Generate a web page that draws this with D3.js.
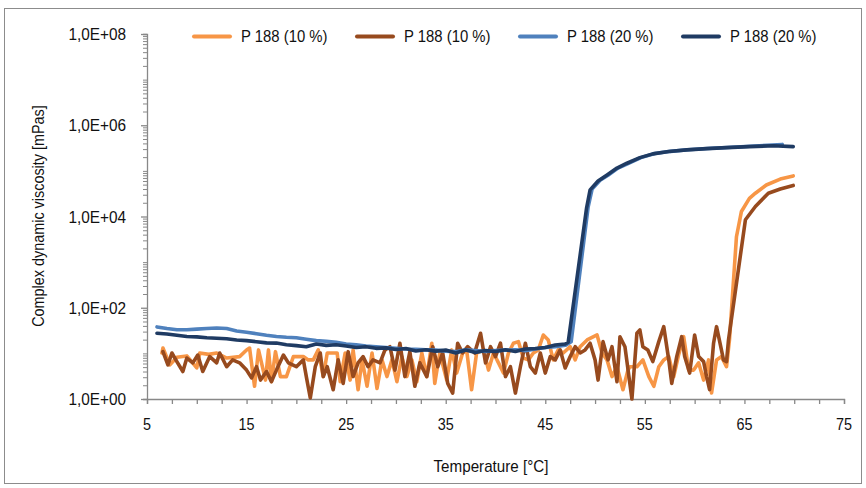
<!DOCTYPE html>
<html>
<head>
<meta charset="utf-8">
<script src="https://cdn.jsdelivr.net/npm/d3@7"></script>
<style>
  html, body { margin: 0; padding: 0; background: #fff; }
  text { font-family: "Liberation Sans", Arial, sans-serif; fill: #111; }
</style>
</head>
<body>
<div id="chart"></div>
<script>
// tick labels
const xTickLabels = [5, 15, 25, 35, 45, 55, 65, 75];
const yTickLabels = [1, 1e2, 1e4, 1e6, 1e8];

const seriesNames = ["P 188 (10 %)", "P 188 (10 %)", "P 188 (20 %)", "P 188 (20 %)"];
const seriesColors = ["#F79646", "#974A1E", "#4F81BD", "#1F3B63"];

// [temperature °C, complex dynamic viscosity mPas]
const p188_10a = [[6.5,10.2],[6.6,13.1],[7.3,5.6],[8.0,8.2],[9.0,8.8],[10.0,4.8],[10.3,10.2],[11.2,9.5],[12.0,10.2],[13.0,7.9],[14.3,8.5],[15.0,11.9],[15.3,13.1],[15.8,1.9],[16.2,11.9],[16.9,2.6],[17.2,11.9],[17.5,2.4],[17.9,10.9],[18.4,3.1],[19.0,3.1],[19.7,8.5],[20.7,8.5],[21.2,7.2],[21.7,7.2],[22.2,11.9],[22.7,3.1],[23.1,10.2],[24.1,10.2],[24.4,2.4],[24.9,10.2],[25.4,2.6],[25.7,11.9],[26.2,1.6],[26.6,7.2],[27.1,1.9],[27.6,10.2],[28.1,1.7],[28.6,7.2],[29.1,3.1],[29.6,7.2],[30.1,2.4],[30.6,8.5],[31.1,3.1],[31.6,7.2],[32.1,2.4],[32.6,10.2],[33.1,3.1],[33.6,16.7],[33.9,2.2],[34.4,10.2],[35.1,2.6],[35.6,11.9],[36.1,3.7],[36.7,10.2],[37.1,11.9],[37.6,1.6],[38.1,10.2],[38.8,11.9],[39.3,4.3],[39.8,10.2],[40.3,6.2],[40.8,3.7],[41.3,10.2],[41.8,16.7],[42.3,18.1],[42.8,7.9],[43.3,7.2],[43.8,10.2],[44.3,11.9],[44.8,25.3],[45.3,19.7],[45.8,7.2],[46.3,11.9],[46.8,10.2],[47.5,14.0],[48.0,7.2],[48.5,14.0],[49.2,19.7],[50.2,25.3],[50.7,10.2],[51.2,7.2],[51.7,3.1],[52.2,5.1],[52.8,1.6],[53.3,4.3],[53.5,5.1],[54.2,5.1],[54.8,7.2],[55.4,3.1],[55.9,1.9],[56.4,5.1],[56.9,7.2],[57.4,8.5],[57.9,3.1],[58.4,9.5],[58.9,23.2],[59.4,4.3],[59.9,4.3],[60.4,6.2],[60.9,2.6],[61.4,7.2],[61.7,1.35],[62.2,7.2],[62.7,8.5],[63.2,5.1],[63.5,20],[64.2,3600],[64.7,12900],[65.5,25000],[66.1,32400],[67.2,49000],[68.6,66000],[69.9,77600]];

const p188_10b = [[6.6,10.9],[7.1,5.6],[7.5,10.2],[8.0,6.6],[8.6,4.0],[9.0,7.9],[9.6,6.2],[10.1,9.2],[10.6,4.0],[11.3,8.5],[12.0,6.2],[12.3,10.2],[13.0,5.1],[13.6,7.2],[14.3,6.2],[15.0,4.3],[15.5,2.9],[16.0,5.1],[16.4,2.6],[17.0,4.0],[17.5,2.4],[18.0,4.3],[18.7,9.2],[19.2,6.2],[20.0,5.1],[20.7,7.2],[21.0,3.1],[21.4,1.05],[21.9,5.1],[22.4,10.2],[22.7,3.1],[23.1,5.1],[23.7,1.6],[24.2,7.2],[24.7,2.2],[25.2,10.9],[25.7,3.1],[26.2,6.2],[26.7,8.5],[27.2,5.1],[27.7,7.2],[28.4,6.2],[28.9,11.9],[29.4,14.0],[29.9,4.3],[30.4,16.7],[30.9,3.1],[31.4,10.9],[31.9,1.9],[32.4,6.2],[33.1,3.1],[33.7,14.0],[34.2,5.1],[34.7,10.2],[35.2,2.2],[35.7,1.35],[36.2,16.7],[36.7,10.2],[37.2,14.0],[37.9,10.2],[38.5,27.6],[39.0,6.2],[39.5,14.0],[40.0,8.5],[40.5,16.7],[41.0,3.1],[41.5,5.1],[42.0,1.35],[42.5,5.1],[43.0,16.7],[43.5,5.1],[44.0,3.7],[44.5,10.2],[45.0,3.7],[45.5,8.5],[46.0,7.2],[46.5,11.9],[47.0,4.8],[47.5,8.5],[48.0,14.0],[48.5,10.2],[49.0,11.9],[49.5,16.7],[50.0,7.2],[50.3,2.6],[50.8,18.1],[51.3,7.2],[51.7,14.0],[52.2,2.4],[52.5,23.2],[53.0,14.0],[53.2,6.6],[53.7,1.0],[54.2,27.6],[54.5,32.6],[54.8,14.0],[55.3,11.9],[55.8,6.6],[56.4,18.1],[56.9,38.5],[57.4,7.2],[57.7,2.2],[58.2,8.5],[58.7,23.2],[59.0,8.5],[59.5,3.7],[60.0,25.3],[60.4,8.5],[60.9,6.6],[61.2,3.1],[61.5,1.6],[61.9,16.7],[62.2,38.5],[62.9,7.2],[63.2,6.6],[63.4,19.7],[65.1,8500],[66.1,16600],[67.4,32400],[68.6,40000],[69.9,47900]];

const p188_20a = [[6,38],[7,35],[8,33],[9,33],[10,34],[11,35],[12,36],[13,35],[14,31],[15,29],[16,27],[17,25],[18,23.5],[19,22.5],[20,22],[21,20.4],[22,19],[23,18.5],[24,17.5],[25,16],[26,15.5],[27,14.5],[28,14],[29,13.5],[30,13],[31,12.5],[32,12.3],[33,12],[34,11.8],[35,11.2],[36,10.9],[37,12],[38,11.5],[39,11],[40,11.5],[41,11.8],[42,12],[43,11.5],[44,12.5],[45,13.5],[46,14],[47,15],[47.6,18],[49.3,16000],[49.7,40000],[50.5,62000],[51.3,80000],[52.3,115000],[53.3,145000],[54.6,195000],[56,240000],[57.6,268000],[59.3,290000],[61.3,310000],[63.3,325000],[66,350000],[68.8,380000]];

const p188_20b = [[6,27.6],[7,26.5],[8,25],[9,23.5],[10,23],[11,22],[12,21.5],[13,21],[14,19.7],[15,19],[16,18],[17,17],[18,16.8],[19,15.5],[20,14.8],[21,14],[22,16],[23,15],[24,15.5],[25,14.5],[26,13.5],[27,14],[28,12.9],[29,13.2],[30,12.2],[31,12.8],[32,11.3],[33,12],[34,11.2],[35,11.8],[36,10.2],[37,11.8],[38,10.4],[39,11.5],[40,11],[41,12],[42,11],[43,12.5],[44,12.8],[45,13.5],[46,15.2],[47,16],[47.3,17.5],[49.15,15500],[49.5,38400],[50.3,60000],[51.2,81500],[52.2,115000],[53.2,147000],[54.5,195000],[55.8,236000],[57.4,265000],[59.2,288000],[61.2,308000],[63.2,324000],[65.5,340000],[67.9,355000],[69.9,340000]];

const allSeries = [p188_10a, p188_10b, p188_20a, p188_20b];

const W = 866, H = 488;
const svg = d3.select("#chart").append("svg")
    .attr("width", W)
    .attr("height", H);

// outer frame
svg.append("rect")
    .attr("x", 4.5).attr("y", 8.5)
    .attr("width", 857).attr("height", 475)
    .attr("fill", "none")
    .attr("stroke", "#8c8c8c")
    .attr("stroke-width", 1);

const x = d3.scaleLinear().domain([5, 75]).range([147, 844]);
const y = d3.scaleLog().domain([1, 1e8]).range([399, 34]);

const axisColor = "#888";

// condensed-looking text: squeeze horizontally around the anchor point
function label(parent, tx, ty, str, opts) {
    const o = Object.assign({ size: 16, sx: 0.94, anchor: "start", rot: 0 }, opts);
    parent.append("text")
        .attr("transform", `translate(${tx},${ty}) rotate(${o.rot}) scale(${o.sx},1)`)
        .attr("text-anchor", o.anchor)
        .style("font-size", o.size + "px")
        .text(str);
}

// x axis
const xAxis = svg.append("g")
    .attr("transform", `translate(0, ${y(1)})`)
    .call(d3.axisBottom(x).tickValues(d3.range(5, 75.1, 2.5)).tickSize(5).tickFormat(""));
xAxis.select(".domain").attr("stroke", axisColor).attr("stroke-width", 1.3);
xAxis.selectAll(".tick line").attr("stroke", axisColor).attr("stroke-width", 1.3);

const xLab = svg.append("g");
xTickLabels.forEach(d => label(xLab, x(d), 430, d, { anchor: "middle", sx: 0.9 }));

// y axis: minor ticks then major
const minor = y.ticks().filter(d => !yTickLabels.includes(d));
const yAxis = svg.append("g")
    .attr("transform", `translate(${x(5)}, 0)`)
    .call(d3.axisLeft(y).tickValues(minor).tickSize(4).tickFormat(""));
yAxis.select(".domain").attr("stroke", axisColor).attr("stroke-width", 1.3);
yAxis.selectAll(".tick line").attr("stroke", axisColor).attr("stroke-width", 1);

const yMajor = svg.append("g")
    .attr("transform", `translate(${x(5)}, 0)`)
    .call(d3.axisLeft(y).tickValues(yTickLabels).tickSize(6).tickFormat(""));
yMajor.select(".domain").remove();
yMajor.selectAll(".tick line").attr("stroke", axisColor).attr("stroke-width", 1.3);

const yLab = svg.append("g");
yTickLabels.forEach(d => label(yLab, 126, y(d) + 6,
    "1,0E+" + String(Math.round(Math.log10(d))).padStart(2, "0"),
    { anchor: "end", sx: 0.96 }));

// axis titles
label(svg, 491, 472, "Temperature [°C]", { anchor: "middle", sx: 0.95 });
label(svg, 44, 216, "Complex dynamic viscosity [mPas]", { anchor: "middle", sx: 0.9, rot: -90 });

// series lines
const line = d3.line()
    .x(d => x(d[0]))
    .y(d => y(d[1]));

svg.append("g").selectAll("path")
    .data(allSeries)
    .join("path")
    .attr("d", line)
    .attr("fill", "none")
    .attr("stroke", (d, i) => seriesColors[i])
    .attr("stroke-width", 3.6)
    .attr("stroke-linejoin", "round")
    .attr("stroke-linecap", "round");

// legend
const legendX = [194, 357, 520, 683];
const legend = svg.append("g");
seriesNames.forEach((name, i) => {
    const g = legend.append("g").attr("transform", `translate(${legendX[i]}, 36.5)`);
    g.append("line")
        .attr("x1", 0).attr("x2", 36)
        .attr("stroke", seriesColors[i])
        .attr("stroke-width", 4)
        .attr("stroke-linecap", "round");
    label(g, 47, 5.5, name, { sx: 0.93 });
});
</script>
</body>
</html>
